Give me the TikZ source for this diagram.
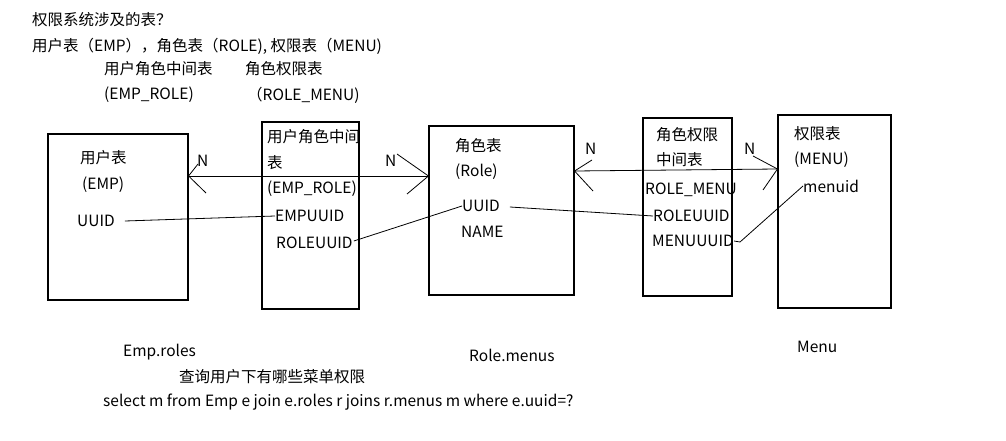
\documentclass[tikz,border=0pt]{standalone}
\usepackage{fontspec}
\setmainfont{Noto Sans CJK SC}
\usepackage{tikz}
\usetikzlibrary{positioning}

\tikzset{
  tbl/.style={draw, line width=1.1pt, inner sep=0pt},
  txt/.style={anchor=west, inner sep=0pt, font=\fontsize{15.5}{18}\selectfont},
  lnk/.style={line width=0.8pt}
}

\begin{document}
\begin{tikzpicture}[x=1pt, y=-1pt]
\useasboundingbox[fill=white] (0,0) rectangle (1006,441);

% nodes %
\node[txt] (title) at (32,20) {权限系统涉及的表？};
\node[txt] (tables) at (32,46) {用户表（EMP），角色表（ROLE), 权限表（MENU)};
\node[txt] (er) at (104,69) {用户角色中间表};
\node[txt] (rm) at (245,69) {角色权限表};
\node[txt] (ername) at (104,95) {(EMP\_ROLE)};
\node[txt] (rmname) at (247,95) {（ROLE\_MENU)};

\node[tbl, minimum width=140pt, minimum height=166pt] (emp) at (118,217) {};
\node[tbl, minimum width=97pt, minimum height=187pt] (emprole) at (310.5,215.5) {};
\node[tbl, minimum width=145pt, minimum height=169pt] (role) at (501.5,210.5) {};
\node[tbl, minimum width=89pt, minimum height=178pt] (rolemenu) at (687.5,207) {};
\node[tbl, minimum width=113pt, minimum height=193pt] (menu) at (834.5,211.5) {};

\node[txt] (emp1) at (80,158) {用户表};
\node[txt] (emp2) at (82,185) {(EMP)};
\node[txt] (empid) at (77,221) {UUID};

\node[txt] (er1) at (267,137) {用户角色中间};
\node[txt] (er2) at (267,163) {表};
\node[txt] (er3) at (267,189) {(EMP\_ROLE)};
\node[txt] (erempid) at (275,216) {EMPUUID};
\node[txt] (erroleid) at (276,243) {ROLEUUID};

\node[txt] (role1) at (455,146) {角色表};
\node[txt] (role2) at (455,172) {(Role)};
\node[txt] (roleid) at (462,206) {UUID};
\node[txt] (rolename) at (461,232) {NAME};

\node[txt] (rm1) at (656,135) {角色权限};
\node[txt] (rm2) at (656,160) {中间表};
\node[txt] (rm3) at (645,190) {ROLE\_MENU};
\node[txt] (rmroleid) at (653,216) {ROLEUUID};
\node[txt] (rmmenuid) at (652,241) {MENUUUID};

\node[txt] (menu1) at (794,134) {权限表};
\node[txt] (menu2) at (794,160) {(MENU)};
\node[txt] (menuid) at (803,186) {menuid};

\node[txt] (n1) at (197,161) {N};
\node[txt] (n2) at (385,161) {N};
\node[txt] (n3) at (585,149) {N};
\node[txt] (n4) at (744,149) {N};

\node[txt] (emproles) at (123,352) {Emp.roles};
\node[txt] (rolemenus) at (469,355) {Role.menus};
\node[txt] (menulbl) at (797,347) {Menu};
\node[txt] (query) at (179,377) {查询用户下有哪些菜单权限};
\node[txt] (hql) at (103,402) {select m from Emp e join e.roles r joins r.menus m where e.uuid=?};

% edges %
\coordinate (a1) at (emp.east |- 0,176);
\coordinate (a2) at (role.west |- 0,176);
\coordinate (b1) at (role.east |- 0,171);
\coordinate (b2) at (menu.west |- 0,169);
\coordinate (k1) at (740,242);

\draw[lnk] (a1) -- (a2);
\draw[lnk] (a1) -- (198,164);
\draw[lnk] (a1) -- (206,193);
\draw[lnk] (397,154) -- (a2);
\draw[lnk] (407,194) -- (a2);

\draw[lnk] (b1) -- (b2);
\draw[lnk] (b1) -- (592,160);
\draw[lnk] (b1) -- (593,191);
\draw[lnk] (753,156) -- (b2);
\draw[lnk] (763,190) -- (b2);

\draw[lnk] (empid.east) ++(10,0) -- (erempid.west);
\draw[lnk] (erroleid.east) ++(1,-2) -- (roleid.west);
\draw[lnk] (roleid.east) ++(10,1) -- (rmroleid.west);
\draw[lnk] (rmmenuid.east) -- (k1) -- (menuid.west);

\end{tikzpicture}
\end{document}
